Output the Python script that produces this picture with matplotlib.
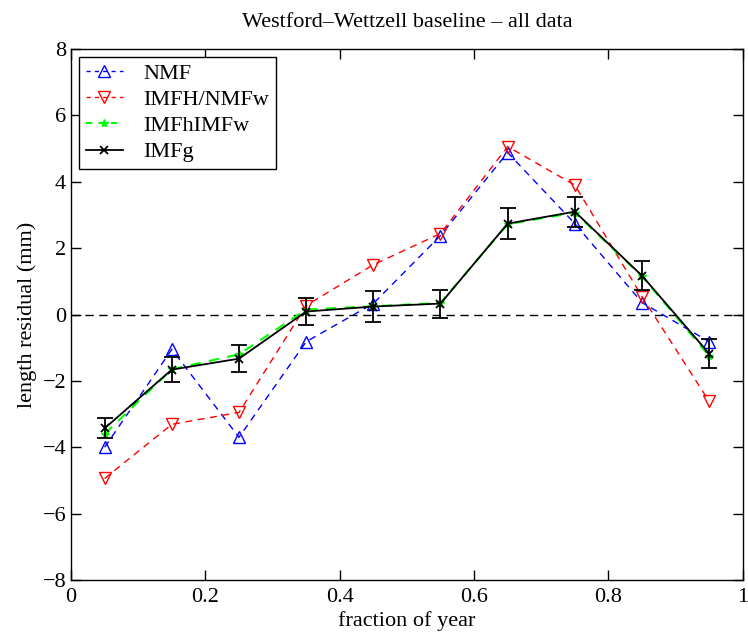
import numpy as np
import matplotlib.pyplot as plt
from matplotlib.lines import Line2D

plt.rcParams['font.family'] = ['Liberation Serif', 'DejaVu Serif']

# 年の区分（ビンの中心）
frac = [0.05, 0.15, 0.25, 0.35, 0.45, 0.55, 0.65, 0.75, 0.85, 0.95]

nmf = [-4.0, -1.05, -3.7, -0.82, 0.33, 2.38, 4.88, 2.74, 0.36, -0.82]
imfh_nmfw = [-4.94, -3.31, -2.95, 0.27, 1.5, 2.44, 5.06, 3.9, 0.54, -2.62]
imfh_imfw = [-3.6, -1.65, -1.2, 0.15, 0.25, 0.35, 2.72, 3.07, 1.15, -1.25]
imfg = [-3.43, -1.66, -1.33, 0.09, 0.24, 0.33, 2.74, 3.1, 1.17, -1.18]
imfg_err = [0.3, 0.38, 0.4, 0.42, 0.46, 0.42, 0.47, 0.45, 0.44, 0.43]

fig = plt.figure(figsize=(7.48, 6.37), dpi=100)
ax = fig.add_axes([0.095, 0.0895, 0.898, 0.8335])

ax.axhline(0, color='black', linestyle=(0, (6, 4)), linewidth=1.0, zorder=1)

ax.plot(frac, nmf, color='blue', linestyle=(0, (5, 4)), linewidth=1.0,
        marker='^', markersize=9, markerfacecolor='none', markeredgecolor='blue',
        markeredgewidth=1.0, zorder=2)
ax.plot(frac, imfh_nmfw, color='red', linestyle=(0, (5, 4)), linewidth=1.0,
        marker='v', markersize=9, markerfacecolor='none', markeredgecolor='red',
        markeredgewidth=1.0, zorder=2)
ax.plot(frac, imfh_imfw, color='lime', linestyle=(0, (5, 4)), linewidth=1.5,
        marker='*', markersize=6, markeredgecolor='lime', zorder=3)
ax.errorbar(frac, imfg, yerr=imfg_err, color='black', linewidth=1.3,
            marker='x', markersize=6, markeredgewidth=1.3, capsize=6, capthick=1.3,
            elinewidth=1.3, zorder=4)

ax.set_xlim(0, 1)
ax.set_ylim(-8, 8)
ax.set_xticks([0, 0.2, 0.4, 0.6, 0.8, 1])
ax.set_xticklabels(['0', '0.2', '0.4', '0.6', '0.8', '1'])
ax.set_yticks(range(-8, 9, 2))
ax.set_yticklabels(['\u22128', '\u22126', '\u22124', '\u22122', '0', '2', '4', '6', '8'])
ax.tick_params(direction='in', top=True, right=True, labelsize=16, length=7, width=1)
ax.tick_params(axis='x', pad=6)
for s in ax.spines.values():
    s.set_linewidth(1.0)

ax.set_xlabel('fraction of year', fontsize=16, labelpad=3)
ax.set_ylabel('length residual (mm)', fontsize=16, labelpad=4)
ax.set_title('Westford\u2013Wettzell baseline \u2013 all data', fontsize=16, pad=16)

# 凡例（エラーバーなしのハンドル）
handles = [
    Line2D([], [], color='blue', linestyle=(0, (3, 3)), linewidth=1.0, marker='^',
           markersize=9, markerfacecolor='none', markeredgecolor='blue'),
    Line2D([], [], color='red', linestyle=(0, (3, 3)), linewidth=1.0, marker='v',
           markersize=9, markerfacecolor='none', markeredgecolor='red'),
    Line2D([], [], color='lime', linestyle=(0, (3, 3)), linewidth=1.5, marker='*',
           markersize=6, markeredgecolor='lime'),
    Line2D([], [], color='black', linewidth=1.3, marker='x', markersize=6,
           markeredgewidth=1.3),
]
labels = ['NMF', 'IMFH/NMFw', 'IMFhIMFw', 'IMFg']
leg = ax.legend(handles, labels, loc='upper left', fontsize=16, frameon=True,
                fancybox=False, edgecolor='black', framealpha=1, borderaxespad=0.35,
                handlelength=1.7, handletextpad=0.9, labelspacing=0.25, borderpad=0.3)
leg.get_frame().set_linewidth(1.0)

fig.savefig('out.png', dpi=100)
